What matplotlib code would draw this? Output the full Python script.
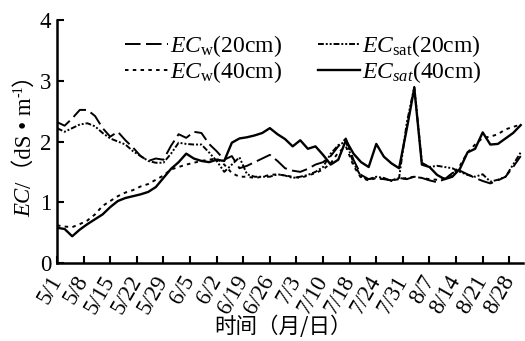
import numpy as np
import matplotlib
matplotlib.use('Agg')
import matplotlib.pyplot as plt
from matplotlib.transforms import IdentityTransform

plt.rcParams['font.family'] = ['Liberation Serif', 'Noto Sans CJK SC']
plt.rcParams['mathtext.fontset'] = 'custom'
plt.rcParams['mathtext.rm'] = 'Liberation Serif'
plt.rcParams['mathtext.it'] = 'Liberation Serif:italic'

# days since 5/1, one reading every 2 days
days = np.arange(0, 123, 2)

tick_days = np.arange(0, 120, 7)
tick_labels = ['5/1', '5/8', '5/15', '5/22', '5/29', '6/5', '6/2', '6/19', '6/26',
               '7/3', '7/10', '7/18', '7/24', '7/31', '8/7', '8/14', '8/21', '8/28']

ec_w_20 = [2.32, 2.26, 2.38, 2.52, 2.52, 2.42, 2.22, 2.08, 2.16, 2.02,
           1.90, 1.76, 1.68, 1.72, 1.70, 1.93, 2.12, 2.06, 2.16, 2.14,
           1.96, 1.84, 1.70, 1.76, 1.56, 1.60, 1.66, 1.72, 1.78, 1.68,
           1.56, 1.52, 1.50, 1.55, 1.62, 1.66, 1.76, 1.92, 2.05, 1.70,
           1.45, 1.38, 1.40, 1.38, 1.36, 1.40, 1.38, 1.42, 1.40, 1.36,
           1.33, 1.38, 1.48, 1.52, 1.46, 1.40, 1.35, 1.31, 1.36, 1.42,
           1.58, 1.76]

ec_sat_20 = [2.22, 2.16, 2.22, 2.28, 2.30, 2.25, 2.14, 2.05, 2.00, 1.95,
             1.84, 1.76, 1.68, 1.65, 1.65, 1.80, 1.98, 1.96, 1.95, 1.95,
             1.82, 1.68, 1.50, 1.62, 1.74, 1.46, 1.42, 1.42, 1.42, 1.46,
             1.44, 1.40, 1.42, 1.45, 1.50, 1.58, 1.80, 1.94, 2.00, 1.65,
             1.42, 1.38, 1.42, 1.40, 1.35, 1.40, 2.30, 2.90, 1.65, 1.58,
             1.60, 1.58, 1.56, 1.50, 1.45, 1.42, 1.46, 1.34, 1.37, 1.42,
             1.62, 1.82]

ec_w_40 = [0.62, 0.60, 0.59, 0.64, 0.70, 0.80, 0.94, 1.02, 1.10, 1.16,
           1.20, 1.26, 1.30, 1.37, 1.44, 1.54, 1.58, 1.62, 1.65, 1.68,
           1.70, 1.72, 1.62, 1.48, 1.42, 1.42, 1.40, 1.42, 1.45, 1.46,
           1.44, 1.42, 1.40, 1.44, 1.48, 1.54, 1.64, 1.82, 1.92, 1.60,
           1.40, 1.36, 1.40, 1.38, 1.36, 1.38, 1.40, 1.42, 1.40, 1.38,
           1.37, 1.40, 1.46, 1.60, 1.82, 1.95, 2.06, 2.08, 2.12, 2.20,
           2.24, 2.28]

ec_sat_40 = [0.58, 0.56, 0.44, 0.55, 0.64, 0.72, 0.80, 0.92, 1.02, 1.07,
             1.10, 1.13, 1.17, 1.25, 1.40, 1.55, 1.66, 1.80, 1.72, 1.68,
             1.66, 1.70, 1.68, 1.98, 2.05, 2.07, 2.10, 2.14, 2.22, 2.12,
             2.04, 1.92, 2.02, 1.88, 1.92, 1.78, 1.62, 1.70, 2.02, 1.80,
             1.66, 1.58, 1.96, 1.75, 1.64, 1.56, 2.20, 2.88, 1.62, 1.58,
             1.45, 1.38, 1.42, 1.55, 1.82, 1.88, 2.15, 1.95, 1.96, 2.05,
             2.14, 2.27]

fig = plt.figure(figsize=(5.25, 3.41), dpi=100)
ax = fig.add_axes([57 / 525, 78 / 341, 466 / 525, 243 / 341])

ax.plot(days, ec_w_20, color='black', lw=1.4, dashes=(8, 2.8),
        label=r'$EC_{\mathrm{w}}$(20cm)')
ax.plot(days, ec_w_40, color='black', lw=1.4, dashes=(1.8, 2.2),
        label=r'$EC_{\mathrm{w}}$(40cm)')
ax.plot(days, ec_sat_20, color='black', lw=1.4, dashes=(3, 1, 1, 1, 1, 1),
        label=r'$EC_{\mathrm{sat}}$(20cm)')
ax.plot(days, ec_sat_40, color='black', lw=1.7,
        label=r'$EC_{sat}$(40cm)')

ax.set_xlim(0, 122.6)
ax.set_ylim(0, 4)
ax.set_yticks([0, 1, 2, 3, 4])
ax.set_xticks(tick_days)
ax.set_xticklabels(tick_labels, rotation=60, ha='right', va='center',
                   rotation_mode='anchor')

for side in ['top', 'right']:
    ax.spines[side].set_visible(False)
for side in ['left', 'bottom']:
    ax.spines[side].set_linewidth(1.8)
ax.tick_params(direction='in', length=5, width=1.5, labelsize=16.5)
ax.tick_params(axis='x', pad=10)
ax.tick_params(axis='y', pad=4)

ax.legend(ncol=2, loc='upper left', bbox_to_anchor=(0.146, 0.945),
          frameon=False, fontsize=17, handlelength=1.8, handletextpad=0.1,
          columnspacing=1.5, labelspacing=0.0, borderpad=0, borderaxespad=0)

# y label built from pieces so the CJK brackets fall back to Noto
def stacked_ylabel(fig, x, y_center, pieces):
    texts = []
    for s, kw, dx in pieces:
        t = fig.text(x + dx, 0, s, rotation=90, ha='center', va='bottom',
                     transform=IdentityTransform(), **kw)
        texts.append(t)
    renderer = fig.canvas.get_renderer()
    heights = [t.get_window_extent(renderer).height for t in texts]
    y = y_center - sum(heights) / 2
    for t, h, (s, kw, dx) in zip(texts, heights, pieces):
        t.set_position((x + dx, y))
        y += h

stacked_ylabel(fig, 25, 341 - 140, [
    ('EC', dict(fontsize=16.5, fontstyle='italic'), 0),
    ('/（dS • m', dict(fontsize=16.5), 0),
    ('-1', dict(fontsize=10), -6),
    ('）', dict(fontsize=16.5), 0),
])

fig.text(283 / 525, 14 / 341, '时间（月/日）', ha='center', va='center',
         fontsize=15.5, family='Noto Sans CJK SC')

fig.savefig('out.png', dpi=100)
